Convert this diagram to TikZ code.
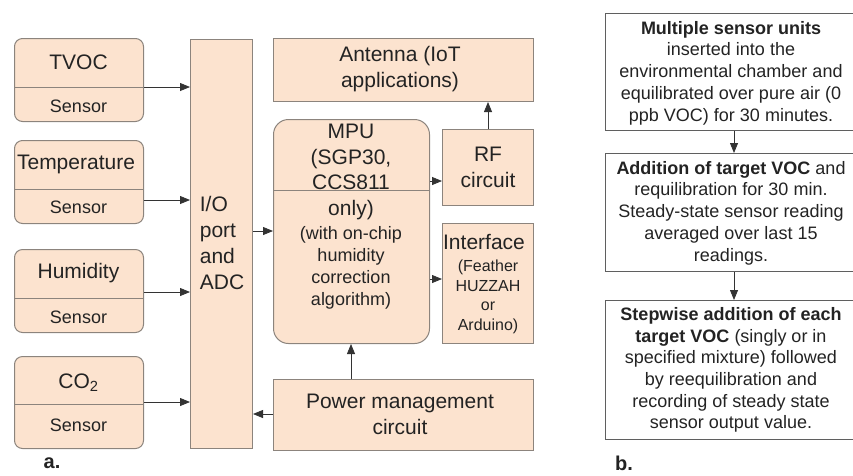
\documentclass[tikz,border=0pt]{standalone}
\usepackage{fontspec}
\setmainfont{Liberation Sans}
\usetikzlibrary{arrows.meta}
\definecolor{peach}{RGB}{252,227,207}
\definecolor{edgegray}{RGB}{140,132,125}
\definecolor{txt}{RGB}{35,35,35}
\definecolor{boxline}{RGB}{95,95,95}
\begin{document}
\begin{tikzpicture}[x=1pt,y=-1pt,
  blk/.style={draw=edgegray, fill=peach, line width=1pt, inner sep=0pt, anchor=north west},
  sens/.style={blk, rounded corners=8pt, minimum width=129pt, minimum height=83pt},
  lbl/.style={text=txt, inner sep=0pt, align=center},
  big/.style={lbl, font=\fontsize{21}{26}\selectfont},
  mid/.style={lbl, font=\fontsize{18}{21.7}\selectfont},
  sml/.style={lbl, font=\fontsize{16}{19.5}\selectfont},
  arr/.style={-{Triangle[length=10pt,width=8pt]}, line width=0.8pt, draw=black!80},
  rbox/.style={draw=boxline, line width=1pt, fill=white, anchor=north west, inner sep=0pt, minimum width=252pt},
  divl/.style={draw=edgegray, line width=1pt}
]
\useasboundingbox (0,0) rectangle (853,475);

% sensors
\node[sens] (tvoc) at (14,38) {};
\node[sens] (temp) at (14,140) {};
\node[sens] (hum) at (14,249) {};
\node[sens, minimum height=92pt] (co2) at (14,356) {};
\draw[divl] (tvoc.west |- 0,87) -- (tvoc.east |- 0,87);
\draw[divl] (temp.west |- 0,189) -- (temp.east |- 0,189);
\draw[divl] (hum.west |- 0,298) -- (hum.east |- 0,298);
\draw[divl] (co2.west |- 0,404) -- (co2.east |- 0,404);
\node[big] (tvoct) at (78.5,62) {TVOC};
\node[mid] (tvocs) at (78.5,106) {Sensor};
\node[big] (tempt) at (76,164) {Temperature};
\node[mid] (temps) at (78.5,207) {Sensor};
\node[big] (humt) at (78.5,273) {Humidity};
\node[mid] (hums) at (78.5,317) {Sensor};
\node[big] (co2t) at (78.5,383) {CO\textsubscript{2}};
\node[mid] (co2s) at (78.5,425) {Sensor};

% I/O
\node[blk, minimum width=62pt, minimum height=409pt] (io) at (190,39) {};
\node[big, align=left] (iot) at (222,243) {I/O\\port\\and\\ADC};

% antenna
\node[blk, minimum width=260pt, minimum height=63pt] (ant) at (273,38) {};
\node[big] (antt) at (400,69) {Antenna (IoT\\applications)};

% MPU
\node[blk, rounded corners=15pt, minimum width=156pt, minimum height=224pt] (mpu) at (273,119) {};
\draw[divl] (mpu.west |- 0,190) -- (mpu.east |- 0,190);
\node[lbl, font=\fontsize{21}{25.5}\selectfont] (mput) at (351,172) {MPU\\(SGP30,\\CCS811\\only)};
\node[lbl, font=\fontsize{18}{22}\selectfont] (mpub) at (351,268) {(with on-chip\\humidity\\correction\\algorithm)};

% RF
\node[blk, minimum width=91pt, minimum height=76pt] (rf) at (442,129) {};
\node[big] (rft) at (488,167) {RF\\circuit};

% Interface
\node[blk, minimum width=91pt, minimum height=120pt] (intf) at (442,223) {};
\node[big] (intft) at (484,242) {Interface};
\node[sml] (intfs) at (488,297) {(Feather\\HUZZAH\\or\\Arduino)};

% Power
\node[blk, minimum width=260pt, minimum height=71pt] (pwr) at (273,379) {};
\node[big] (pwrt) at (400,414) {Power management\\circuit};

% arrows left
\draw[arr] (tvoc.east |- 0,87) -- (io.west |- 0,87);
\draw[arr] (temp.east |- 0,200) -- (io.west |- 0,200);
\draw[arr] (hum.east |- 0,292) -- (io.west |- 0,292);
\draw[arr] (co2.east |- 0,402) -- (io.west |- 0,402);
\draw[arr] (io.east |- 0,231) -- (mpu.west |- 0,231);
\draw[arr] (mpu.east |- 0,181) -- (rf.west |- 0,181);
\draw[arr] (mpu.east |- 0,279) -- (intf.west |- 0,279);
\draw[arr] (rf.north -| 488,0) -- (ant.south -| 488,0);
\draw[arr] (pwr.north -| 351,0) -- (mpu.south -| 351,0);
\draw[arr] (pwr.west |- 0,414) -- (io.east |- 0,414);

\node[lbl, font=\fontsize{20}{24}\bfseries] (la) at (52,463) {a.};

% right flow
\node[rbox, minimum height=117pt] (s1) at (605,13) {};
\node[rbox, minimum height=118pt] (s2) at (605,153) {};
\node[rbox, minimum height=139pt] (s3) at (605,300) {};
\node[mid] (s1t) at (731,73) {\textbf{Multiple sensor units}\\inserted into the\\environmental chamber and\\equilibrated over pure air (0\\ppb VOC) for 30 minutes.};
\node[mid] (s2t) at (731,213) {\textbf{Addition of target VOC} and\\requilibration for 30 min.\\Steady-state sensor reading\\averaged over last 15\\readings.};
\node[mid] (s3t) at (731,370) {\textbf{Stepwise addition of each}\\\textbf{target VOC} (singly or in\\specified mixture) followed\\by reequilibration and\\recording of steady state\\sensor output value.};
\draw[arr] (s1.south -| 734,0) -- (s2.north -| 734,0);
\draw[arr] (s2.south -| 734,0) -- (s3.north -| 734,0);

\node[lbl, font=\fontsize{20}{24}\bfseries] (lb) at (624,463) {b.};
\end{tikzpicture}
\end{document}
